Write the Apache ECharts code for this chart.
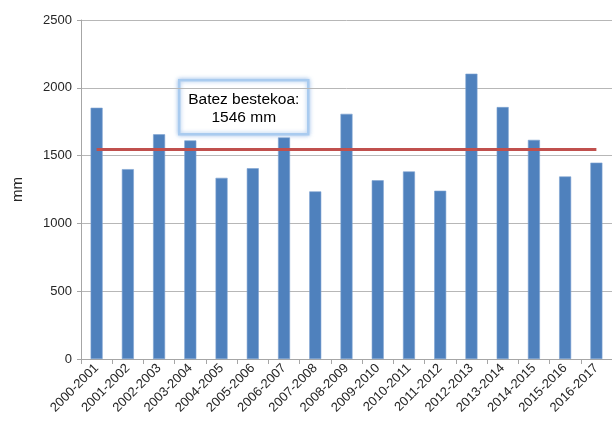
<!DOCTYPE html>
<html>
<head>
<meta charset="utf-8">
<script src="https://cdn.jsdelivr.net/npm/echarts@6/dist/echarts.min.js"></script>
<style>
html,body{margin:0;padding:0;background:#fff;}
#chart{width:612px;height:423px;}
</style>
</head>
<body>
<div id="chart"></div>
<script>
const categories = ["2000-2001","2001-2002","2002-2003","2003-2004","2004-2005","2005-2006","2006-2007","2007-2008","2008-2009","2009-2010","2010-2011","2011-2012","2012-2013","2013-2014","2014-2015","2015-2016","2016-2017"];
const rainfall = [1853,1400,1657,1612,1336,1407,1634,1236,1808,1318,1383,1241,2104,1858,1616,1346,1448];
const meanValue = 1546;
const yTicks = [0,500,1000,1500,2000,2500];
const annotationLines = ["Batez bestekoa:", meanValue + " mm"];

const chart = echarts.init(document.getElementById('chart'), null, {renderer:'canvas'});
chart.setOption({
  animation:false,
  backgroundColor:'#ffffff',
  grid:{left:81, top:20, width:531, height:339, containLabel:false},
  xAxis:{
    type:'category',
    data:categories,
    boundaryGap:true,
    axisLine:{lineStyle:{color:'#a6a6a6', width:1}},
    axisTick:{show:true, alignWithLabel:false, length:5, lineStyle:{color:'#a6a6a6'}},
    axisLabel:{rotate:45, interval:0, margin:7, color:'#262626', fontFamily:'Liberation Sans, Arial', fontSize:13}
  },
  yAxis:{
    type:'value',
    min:yTicks[0], max:yTicks[yTicks.length-1], interval:500,
    name:'mm', nameLocation:'middle', nameGap:56, nameRotate:90,
    nameTextStyle:{color:'#262626', fontFamily:'Liberation Sans, Arial', fontSize:15},
    axisLine:{show:true, lineStyle:{color:'#a6a6a6', width:1}},
    axisTick:{show:true, length:4, lineStyle:{color:'#a6a6a6'}},
    axisLabel:{margin:9, color:'#262626', fontFamily:'Liberation Sans, Arial', fontSize:13,
      formatter:function(v){return String(v);}},
    splitLine:{show:true, lineStyle:{color:'#b7b7b7', width:1}}
  },
  series:[{
    type:'bar',
    data:rainfall,
    barWidth:12,
    itemStyle:{color:'#4f81bd', borderColor:'#7ea3d2', borderWidth:0.6},
    markLine:{
      silent:true,
      symbol:'none',
      label:{show:false},
      lineStyle:{color:'#c0504d', width:3, type:'solid'},
      data:[[{coord:[categories[0], meanValue]},{coord:[categories[categories.length-1], meanValue]}]]
    }
  }],
  graphic:[{
    type:'group',
    left:178, top:79,
    children:[
      {type:'rect', shape:{x:0,y:0,width:129,height:54},
       style:{fill:'#ffffff', stroke:'#a9cbef', lineWidth:2.5, shadowBlur:4, shadowColor:'rgba(140,180,230,0.8)'}},
      {type:'text', style:{x:64.5, y:19, text:annotationLines[0], align:'center', verticalAlign:'middle',
        fill:'#000000', font:'15.5px "Liberation Sans", Arial'}},
      {type:'text', style:{x:64.5, y:37, text:annotationLines[1], align:'center', verticalAlign:'middle',
        fill:'#000000', font:'15.5px "Liberation Sans", Arial'}}
    ]
  }]
});
</script>
</body>
</html>
